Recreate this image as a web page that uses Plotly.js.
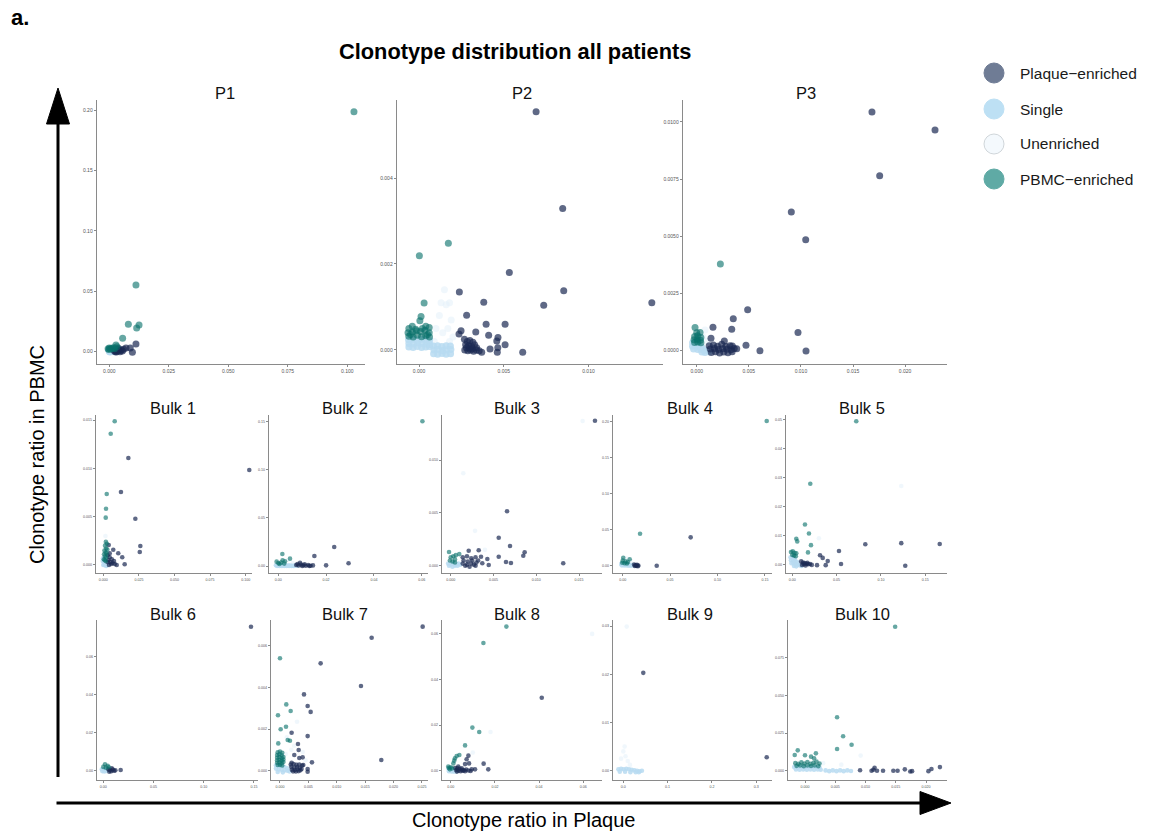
<!DOCTYPE html>
<html><head><meta charset="utf-8">
<script src="https://cdn.plot.ly/plotly-3.0.1.min.js"></script>
<style>html,body{margin:0;padding:0;background:#fff}#chart{width:1153px;height:833px}</style>
</head><body><div id="chart"></div>
<script>
// ---------- categories & names ----------
const categories = ["Unenriched", "Single", "Plaque\u2212enriched", "PBMC\u2212enriched"];
const legendOrder = ["Plaque\u2212enriched", "Single", "Unenriched", "PBMC\u2212enriched"];
const panelNames = ["P1","P2","P3","Bulk 1","Bulk 2","Bulk 3","Bulk 4","Bulk 5","Bulk 6","Bulk 7","Bulk 8","Bulk 9","Bulk 10"];

// ---------- tick labels ----------
const p1_xticks = ["0.000","0.025","0.050","0.075","0.100"];
const p1_yticks = ["0.00","0.05","0.10","0.15","0.20"];
const p2_xticks = ["0.000","0.005","0.010"];
const p2_yticks = ["0.000","0.002","0.004"];
const p3_xticks = ["0.000","0.005","0.010","0.015","0.020"];
const p3_yticks = ["0.0000","0.0025","0.0050","0.0075","0.0100"];
const b1_xticks = ["0.000","0.025","0.050","0.075","0.100"];
const b1_yticks = ["0.000","0.005","0.010","0.015"];
const b2_xticks = ["0.00","0.02","0.04","0.06"];
const b2_yticks = ["0.00","0.05","0.10","0.15"];
const b3_xticks = ["0.000","0.005","0.010","0.015"];
const b3_yticks = ["0.000","0.005","0.010"];
const b4_xticks = ["0.00","0.05","0.10","0.15"];
const b4_yticks = ["0.00","0.05","0.10","0.15","0.20"];
const b5_xticks = ["0.00","0.05","0.10","0.15"];
const b5_yticks = ["0.00","0.01","0.02","0.03","0.04","0.05"];
const b6_xticks = ["0.00","0.05","0.10","0.15"];
const b6_yticks = ["0.00","0.02","0.04","0.06"];
const b7_xticks = ["0.000","0.005","0.010","0.015","0.020","0.025"];
const b7_yticks = ["0.000","0.002","0.004","0.006"];
const b8_xticks = ["0.00","0.02","0.04","0.06"];
const b8_yticks = ["0.00","0.02","0.04","0.06"];
const b9_xticks = ["0.0","0.1","0.2","0.3"];
const b9_yticks = ["0.00","0.01","0.02","0.03"];
const b10_xticks = ["0.000","0.005","0.010","0.015","0.020"];
const b10_yticks = ["0.000","0.025","0.050","0.075","0.100"];

// ---------- data: [ratio in Plaque, ratio in PBMC] ----------
const p1_unenriched = [[0.0010,0.0020],[0.0020,0.0015],[0.0015,0.0030],[0.0025,0.0010]];
const p1_single = [[0.0000,0.0002],[0.0005,0.0000],[0.0010,0.0003],[0.0015,0.0001],[0.0002,0.0008],[0.0008,0.0006],[0.0012,0.0010],[0.0018,0.0004],[0.0003,-0.0003],[0.0020,0.0000],[-0.0002,0.0012],[0.0006,0.0015]];
const p1_plaque = [[0.0112,0.0064],[0.0097,-0.0005],[0.0088,0.0030],[0.0070,0.0030],[0.0060,0.0020],[0.0050,0.0015],[0.0040,0.0010],[0.0030,0.0005],[0.0035,0.0020],[0.0025,0.0000],[0.0045,0.0000],[0.0030,-0.0003],[0.0020,0.0010],[0.0055,0.0005],[0.0038,0.0028],[0.0028,0.0015]];
const p1_pbmc = [[0.1028,0.1986],[0.0112,0.0552],[0.0080,0.0227],[0.0115,0.0196],[0.0125,0.0221],[0.0056,0.0111],[0.0028,0.0055],[0.0000,0.0030],[-0.0005,0.0025],[0.0010,0.0028],[0.0018,0.0032],[0.0005,0.0022],[0.0022,0.0025],[0.0032,0.0040],[-0.0002,0.0018]];

const p2_unenriched = [[0.0015,0.0014],[0.0018,0.0011],[0.0016,0.00105],[0.0012,0.0008],[0.0019,0.0007],[0.0010,0.0005],[0.0014,0.0004],[0.0020,0.0003],[0.0009,0.0002],[0.0017,0.0005],[0.0013,0.0011],[0.0018,0.0002]];
const p2_single = [[-0.00062,0.00024],[-0.00035,0.00025],[-0.0001,0.00023],[0.00015,0.00025],[0.0004,0.00024],[0.00062,0.00022],[-0.0006,0.00015],[-0.00033,0.00014],[-0.00008,0.00016],[0.00018,0.00015],[0.00042,0.00014],[0.00063,0.00013],[-0.0006,0.00007],[-0.00035,0.00006],[-0.0001,0.00008],[0.00015,0.00006],[0.0004,0.00007],[0.00062,0.00008],[0.00085,0.00009],[0.0011,0.0001],[0.00135,0.00008],[0.0016,0.0001],[0.00185,0.00009],[0.00088,0.0],[0.00112,0.00001],[0.00138,-0.00001],[0.00162,0.0],[0.00188,0.00001],[0.00086,-0.00009],[0.0011,-0.0001],[0.00136,-0.00008],[0.0016,-0.0001],[0.00186,-0.00009]];
const p2_plaque = [[0.00691,0.00554],[0.00848,0.00329],[0.00533,0.00180],[0.00854,0.00138],[0.00238,0.00135],[0.00382,0.00111],[0.00736,0.00104],[0.01374,0.00110],[0.00281,0.00081],[0.00396,0.00060],[0.00508,0.00060],[0.00335,0.00042],[0.00248,0.00045],[0.00236,0.00037],[0.00411,0.00034],[0.00466,0.00029],[0.00459,0.00021],[0.00508,0.00012],[0.00612,-0.00005],[0.00370,-0.00005],[0.00419,0.00002],[0.00465,0.00005],[0.00462,-0.00005],[0.00268,0.00025],[0.00285,0.00020],[0.00300,0.00022],[0.00318,0.00018],[0.00275,0.00012],[0.00292,0.00010],[0.00310,0.00008],[0.00328,0.00012],[0.00340,0.00005],[0.00270,0.00000],[0.00288,-0.00002],[0.00305,0.00000],[0.00322,-0.00003],[0.00338,0.00000],[0.00355,-0.00002],[0.00280,0.00005],[0.00298,0.00004],[0.00315,0.00003]];
const p2_pbmc = [[0.00002,0.00219],[0.00173,0.00248],[0.0003,0.00109],[0.00012,0.00078],[0.00005,0.00068],[0.0004,0.00055],[-0.0004,0.00055],[-0.0006,0.00050],[0.0006,0.00052],[-0.00065,0.00040],[-0.0004,0.00042],[-0.00015,0.00045],[0.0001,0.00043],[0.00035,0.00046],[0.0006,0.00040],[-0.0006,0.00032],[-0.00035,0.00030],[-0.0001,0.00034],[0.00015,0.00031],[0.0004,0.00033],[0.00062,0.00030],[-0.0002,0.00048],[0.0002,0.00050],[-0.0005,0.00036],[0.0005,0.00036]];

const p3_unenriched = [[0.0006,0.0006],[0.0010,0.0004],[0.0013,0.0002],[0.0008,0.0009]];
const p3_single = [[-0.0004,0.00035],[-0.0001,0.00038],[0.0002,0.00030],[-0.0004,0.00020],[-0.0001,0.00022],[0.0002,0.00018],[0.0005,0.00015],[-0.0003,0.00008],[0.0001,0.00005],[0.0004,0.00006],[0.0007,0.00004],[0.0010,0.0],[0.0005,-0.00006],[0.0008,-0.00008],[0.0012,-0.00005]];
const p3_plaque = [[0.01682,0.01043],[0.02287,0.00965],[0.01756,0.00765],[0.00908,0.00606],[0.01046,0.00485],[0.00489,0.00179],[0.00351,0.00140],[0.00156,0.00102],[0.00336,0.00094],[0.00972,0.00080],[0.00137,0.00054],[0.00265,0.00042],[0.00473,0.00024],[0.00607,0.0],[0.01049,-0.00001],[0.00384,0.00009],[0.00342,0.00021],[0.0012,0.00022],[0.0016,0.00025],[0.0020,0.00020],[0.0024,0.00028],[0.0028,0.00018],[0.0032,0.00022],[0.0013,0.00008],[0.0017,0.00010],[0.0021,0.00005],[0.0025,0.00009],[0.0029,0.00006],[0.0033,0.00004],[0.0036,0.00010],[0.0014,-0.00008],[0.0018,-0.00005],[0.0022,-0.0001],[0.0026,-0.00006],[0.0030,-0.00009],[0.0034,-0.00005]];
const p3_pbmc = [[0.00227,0.00379],[-0.00016,0.00101],[0.00032,0.00080],[0.0,0.00079],[-0.0002,0.00062],[0.0001,0.00065],[0.0004,0.00058],[-0.00025,0.00048],[0.00005,0.00050],[0.00035,0.00046],[-0.0002,0.00036],[0.0001,0.00038],[0.0004,0.00035]];

const b1_unenriched = [[0.0030,0.0014],[0.0015,0.0030]];
const b1_single = [[-0.0004,0.0004],[0.0005,0.0003],[0.0014,0.0002],[0.0023,0.0003],[0.0032,0.0001],[0.0000,0.0000],[0.0010,0.0000],[0.0020,-0.0001],[0.0030,0.0000],[-0.0002,0.0007]];
const b1_plaque = [[0.1025,0.00983],[0.0176,0.01108],[0.0124,0.00756],[0.0225,0.00479],[0.0260,0.00197],[0.0256,0.00135],[0.0038,0.00207],[0.0070,0.00158],[0.0105,0.00121],[0.0133,0.00080],[0.0150,0.00007],[0.0094,0.0],[0.0030,0.0010],[0.0045,0.0008],[0.0060,0.0006],[0.0035,0.0005],[0.0050,0.0003],[0.0065,0.0002],[0.0080,0.0001],[0.0040,0.0000],[0.0055,0.0001],[0.0030,0.0003],[0.0045,0.0012],[0.0075,0.0004]];
const b1_pbmc = [[0.0080,0.01488],[0.0052,0.01359],[0.0024,0.00735],[0.0019,0.00583],[0.0017,0.00490],[0.0018,0.0024],[0.0025,0.0022],[0.0012,0.0020],[0.0020,0.0017],[0.0008,0.0015],[0.0016,0.0013],[0.0024,0.0012],[0.0005,0.0011],[0.0012,0.0009],[0.0020,0.0008],[0.0004,0.0006],[0.0010,0.0005],[0.0018,0.0004],[0.0028,0.0016]];

const b2_unenriched = [[0.0040,0.0060],[0.0060,0.0030]];
const b2_single = [[-0.0010,0.0008],[0.0000,0.0005],[0.0010,0.0007],[0.0020,0.0004],[0.0030,0.0006],[0.0040,0.0004],[0.0050,0.0005],[0.0060,0.0003],[0.0070,0.0004],[0.0080,0.0002],[-0.0005,0.0000],[0.0005,0.0000],[0.0015,0.0001],[0.0025,0.0000],[0.0035,0.0000],[0.0045,0.0001],[0.0055,0.0000],[0.0065,0.0000]];
const b2_plaque = [[0.0234,0.0197],[0.0151,0.0104],[0.0294,0.0028],[0.0200,0.0007],[0.0091,0.0034],[0.0075,0.0010],[0.0085,0.0005],[0.0095,0.0015],[0.0105,0.0008],[0.0115,0.0003],[0.0125,0.0010],[0.0135,0.0002],[0.0145,0.0006],[0.0080,0.0020],[0.0110,0.0018],[0.0100,0.0000],[0.0130,0.0000]];
const b2_pbmc = [[0.0603,0.1501],[0.0017,0.0124],[0.0049,0.0076],[0.0028,0.0049],[-0.0007,0.0045],[0.0000,0.0030],[0.0012,0.0035],[0.0025,0.0025],[0.0005,0.0020],[0.0018,0.0060]];

const b3_unenriched = [[0.00147,0.00875],[0.00284,0.0033],[0.01542,0.0137],[0.0040,0.0015]];
const b3_single = [[-0.0003,0.0002],[0.0000,0.0001],[0.0003,0.0002],[0.0006,0.0001],[0.0009,0.0002],[-0.0002,0.0000],[0.0002,-0.0001],[0.0005,0.0000],[0.0008,0.0000],[0.0011,0.0001]];
const b3_plaque = [[0.01686,0.01373],[0.00658,0.00515],[0.00561,0.00265],[0.00693,0.00187],[0.00561,0.00085],[0.00864,0.00127],[0.00848,0.00095],[0.00646,0.00035],[0.00704,0.00026],[0.01315,0.00023],[0.00327,0.00146],[0.00210,0.00142],[0.00354,0.00085],[0.00428,0.00063],[0.00444,0.00007],[0.00369,0.00023],[0.0014,0.0008],[0.0019,0.0009],[0.0024,0.0007],[0.0029,0.0008],[0.0015,0.0005],[0.0020,0.0004],[0.0025,0.0005],[0.0030,0.0003],[0.0014,0.0002],[0.0019,0.0001],[0.0024,0.0002],[0.0029,0.0000],[0.0017,0.0000],[0.0022,-0.0001],[0.0027,0.0001],[0.0032,0.0005]];
const b3_pbmc = [[-0.0002,0.0013],[0.0006,0.0010],[0.0010,0.0011],[0.0000,0.0008],[0.0003,0.0009],[0.0005,0.0006],[-0.0001,0.0005],[0.0002,0.0004],[0.0005,0.0003]];

const b4_unenriched = [[0.0040,0.0100],[0.0080,0.0060]];
const b4_single = [[-0.0015,0.0025],[0.0010,0.0022],[0.0035,0.0020],[0.0060,0.0018],[0.0085,0.0010],[0.0110,0.0008],[-0.0010,0.0005],[0.0015,0.0003],[0.0040,0.0002],[0.0065,0.0000],[0.0090,0.0001]];
const b4_plaque = [[0.0717,0.0394],[0.0359,0.0],[0.0120,0.0015],[0.0135,0.0005],[0.0150,0.0012],[0.0165,0.0003],[0.0128,-0.0005],[0.0145,-0.0002],[0.0160,-0.0006]];
const b4_pbmc = [[0.1519,0.2010],[0.0183,0.0444],[0.0006,0.0111],[0.0074,0.0089],[0.0000,0.0070],[0.0030,0.0060],[0.0055,0.0050],[-0.0005,0.0040],[0.0020,0.0035],[0.0045,0.0030]];

const b5_unenriched = [[0.1230,0.0270],[0.0300,0.0090]];
const b5_single = [[-0.0020,0.0024],[0.0005,0.0022],[0.0030,0.0018],[-0.0015,0.0014],[0.0010,0.0012],[0.0035,0.0010],[0.0060,0.0008],[-0.0010,0.0004],[0.0015,0.0003],[0.0040,0.0000],[0.0065,-0.0002],[0.0090,-0.0004],[0.0020,-0.0006],[0.0045,-0.0007],[0.0105,-0.0006]];
const b5_plaque = [[0.0824,0.0069],[0.1230,0.0073],[0.1664,0.0070],[0.1275,-0.0005],[0.0527,0.0046],[0.0550,0.0001],[0.0313,0.0031],[0.0343,0.0022],[0.0400,0.0011],[0.0377,-0.0003],[0.0279,-0.0003],[0.0100,0.0010],[0.0120,0.0006],[0.0140,0.0004],[0.0160,0.0002],[0.0180,0.0000],[0.0200,0.0001],[0.0220,-0.0002],[0.0110,-0.0002],[0.0130,0.0000],[0.0150,-0.0004],[0.0170,0.0005]];
const b5_pbmc = [[0.0722,0.0493],[0.0203,0.0278],[0.0143,0.0137],[0.0188,0.0106],[0.0045,0.0088],[0.0056,0.0079],[0.0211,0.0066],[0.0177,0.0041],[-0.0015,0.0042],[0.0005,0.0045],[0.0025,0.0040],[0.0045,0.0038],[0.0000,0.0032],[0.0020,0.0030],[0.0040,0.0028]];

const b6_unenriched = [[0.0040,0.0010]];
const b6_single = [[-0.0015,0.0008],[0.0005,0.0006],[0.0025,0.0004],[-0.0010,-0.0002],[0.0010,-0.0004],[0.0030,-0.0001]];
const b6_plaque = [[0.1471,0.0758],[0.0173,0.0004],[0.0107,0.0],[0.0084,0.0013],[0.0050,0.0008],[0.0065,0.0003],[0.0080,-0.0003],[0.0095,0.0006],[0.0060,-0.0005],[0.0120,0.0002]];
const b6_pbmc = [[0.0017,0.0034],[0.0044,0.0026],[0.0000,0.0020],[0.0025,0.0016],[0.0055,0.0018]];

const b7_unenriched = [[0.0030,0.00235],[0.0012,0.00160],[0.0025,0.00120],[0.0040,0.00090],[0.0010,0.00080],[0.0045,0.00050],[0.0020,0.00100]];
const b7_single = [[-0.0007,0.00026],[-0.0002,0.00022],[0.0003,0.00020],[0.0008,0.00018],[0.0013,0.00012],[-0.0007,0.00010],[-0.0002,0.00006],[0.0003,0.00004],[0.0008,0.00002],[0.0013,0.00000],[0.0017,-0.00004],[-0.0004,-0.00006],[0.0005,-0.00008]];
const b7_plaque = [[0.02512,0.00691],[0.01614,0.00638],[0.00716,0.00515],[0.01426,0.00406],[0.00423,0.00366],[0.00487,0.00310],[0.00540,0.00282],[0.00487,0.00166],[0.00205,0.00182],[0.01784,0.00051],[0.00317,0.00128],[0.00329,0.00099],[0.00252,0.00075],[0.00399,0.00064],[0.00340,0.00061],[0.00563,0.00040],[0.00410,0.00027],[0.00487,0.00008],[0.00487,-0.00005],[0.00205,0.00038],[0.0019,0.00030],[0.0024,0.00032],[0.0029,0.00028],[0.0034,0.00030],[0.0039,0.00025],[0.0020,0.00018],[0.0025,0.00015],[0.0030,0.00018],[0.0035,0.00014],[0.0021,0.00005],[0.0026,0.00003],[0.0031,0.00006],[0.0036,0.00002],[0.0023,-0.00003],[0.0028,-0.00004],[0.0033,-0.00002],[0.0038,0.00008]];
const b7_pbmc = [[0.0,0.00539],[0.00111,0.00318],[0.00188,0.00286],[-0.00035,0.00266],[0.00106,0.00211],[0.00012,0.00199],[-0.0003,0.00131],[0.00136,0.00147],[0.00176,0.00144],[-0.0004,0.00088],[0.0000,0.00092],[0.0004,0.00086],[-0.0005,0.00075],[-0.0001,0.00078],[0.0003,0.00074],[-0.0005,0.00062],[-0.0001,0.00065],[0.0003,0.00060],[0.0006,0.00066],[-0.0005,0.00050],[-0.0001,0.00052],[0.0003,0.00048],[0.0006,0.00054],[-0.0005,0.00038],[-0.0001,0.00040],[0.0003,0.00036],[0.0006,0.00042],[-0.0004,0.00027],[0.0000,0.00028],[0.0004,0.00025]];

const b8_unenriched = [[0.0180,0.0170],[0.0640,0.0600],[0.0100,0.0080]];
const b8_single = [[-0.0010,0.0008],[0.0000,0.0006],[0.0010,0.0007],[0.0020,0.0004],[-0.0008,-0.0002],[0.0004,-0.0003],[0.0015,-0.0004],[0.0026,-0.0002]];
const b8_plaque = [[0.0412,0.0320],[0.0149,0.0031],[0.0170,0.0006],[0.0080,0.0066],[0.0072,0.0050],[0.0065,0.0029],[0.0083,0.0032],[0.0095,0.0006],[0.0110,0.0006],[0.0050,0.0011],[0.0034,0.0018],[0.0020,0.0012],[0.0030,0.0010],[0.0040,0.0008],[0.0050,0.0004],[0.0060,0.0002],[0.0070,0.0005],[0.0025,0.0003],[0.0035,0.0000],[0.0045,-0.0002],[0.0055,0.0000],[0.0065,-0.0002],[0.0080,0.0001],[0.0090,-0.0001],[0.0028,-0.0004]];
const b8_pbmc = [[0.0252,0.0632],[0.0148,0.0560],[0.0098,0.0189],[0.0129,0.0170],[0.0065,0.0111],[0.0039,0.0069],[0.0027,0.0064],[0.0019,0.0054],[0.0016,0.0044],[0.0012,0.0032],[-0.0011,0.0018],[-0.0008,0.0012],[0.0000,0.0015],[0.0006,0.0010],[-0.0004,0.0006]];

const b9_unenriched = [[0.0077,0.0299],[0.0000,0.0040],[0.0050,0.0030],[0.0100,0.0020],[-0.0050,0.0025],[0.0030,0.0050],[0.0150,0.0012]];
const b9_single = [[-0.0110,0.0003],[-0.0050,0.0004],[0.0010,0.0003],[0.0070,0.0004],[0.0130,0.0003],[0.0190,0.0002],[0.0250,0.0001],[0.0310,0.0000],[0.0370,-0.0001],[0.0420,0.0000],[-0.0080,-0.0002],[0.0040,-0.0002],[0.0160,-0.0003],[0.0280,-0.0003],[0.0350,-0.0003]];
const b9_plaque = [[0.0451,0.0203],[0.3237,0.0028]];
const b9_pbmc = [];

const b10_unenriched = [[0.0092,0.0100],[0.0060,0.0040],[0.0030,0.0050]];
const b10_single = [[-0.0018,0.0024],[-0.0012,0.0022],[-0.0006,0.0024],[0.0000,0.0022],[0.0006,0.0024],[0.0012,0.0022],[0.0018,0.0024],[0.0024,0.0022],[-0.0015,0.0008],[-0.0009,0.0006],[-0.0003,0.0008],[0.0003,0.0006],[0.0009,0.0008],[0.0015,0.0006],[0.0021,0.0008],[0.0026,0.0006],[0.0034,0.0002],[0.0040,-0.0003],[0.0046,0.0002],[0.0052,-0.0003],[0.0058,0.0002],[0.0064,-0.0003],[0.0070,0.0002],[0.0076,-0.0002]];
const b10_plaque = [[0.0091,0.0003],[0.0110,0.0],[0.0115,0.0020],[0.0119,0.0],[0.0129,0.0],[0.0146,0.0],[0.0153,0.0],[0.0165,0.0009],[0.0174,-0.0005],[0.0177,-0.0003],[0.0204,-0.0003],[0.0209,0.0011],[0.0223,0.0024],[0.0113,0.0006]];
const b10_pbmc = [[0.0149,0.0955],[0.0053,0.0354],[0.0063,0.0228],[0.0077,0.0172],[0.0053,0.0144],[-0.0017,0.0104],[-0.0012,0.0135],[0.0000,0.0102],[0.0015,0.0082],[0.0018,0.0115],[0.0010,0.0093],[-0.0016,0.0050],[-0.0011,0.0045],[-0.0006,0.0055],[-0.0001,0.0048],[0.0004,0.0058],[0.0009,0.0046],[0.0014,0.0052],[0.0019,0.0060],[0.0024,0.0047],[-0.0014,0.0032],[-0.0008,0.0035],[-0.0002,0.0030],[0.0004,0.0034],[0.0010,0.0031],[0.0016,0.0035],[0.0022,0.0030]];

// ---------- layout geometry (pixels) ----------
const W = 1153, H = 833;
const panelSets = [
  {u:p1_unenriched,s:p1_single,p:p1_plaque,b:p1_pbmc,xt:p1_xticks,yt:p1_yticks,box:[97,365,100,364],xr:[-0.00517,0.10744],yr:[-0.01018,0.20828],big:true},
  {u:p2_unenriched,s:p2_single,p:p2_plaque,b:p2_pbmc,xt:p2_xticks,yt:p2_yticks,box:[397,663,100,364],xr:[-0.0013,0.0144],yr:[-0.000326,0.005814],big:true},
  {u:p3_unenriched,s:p3_single,p:p3_plaque,b:p3_pbmc,xt:p3_xticks,yt:p3_yticks,box:[683,947,100,364],xr:[-0.001315,0.02402],yr:[-0.000581,0.010957],big:true},
  {u:b1_unenriched,s:b1_single,p:b1_plaque,b:b1_pbmc,xt:b1_xticks,yt:b1_yticks,box:[96,252,415,573],xr:[-0.00513,0.10442],yr:[-0.00083,0.01553]},
  {u:b2_unenriched,s:b2_single,p:b2_plaque,b:b2_pbmc,xt:b2_xticks,yt:b2_yticks,box:[269,428,415,573],xr:[-0.00389,0.06264],yr:[-0.00726,0.15664]},
  {u:b3_unenriched,s:b3_single,p:b3_plaque,b:b3_pbmc,xt:b3_xticks,yt:b3_yticks,box:[442,602,415,573],xr:[-0.00102,0.01768],yr:[-0.00069,0.01427]},
  {u:b4_unenriched,s:b4_single,p:b4_plaque,b:b4_pbmc,xt:b4_xticks,yt:b4_yticks,box:[613,772,415,573],xr:[-0.01023,0.15749],yr:[-0.01014,0.2093]},
  {u:b5_unenriched,s:b5_single,p:b5_plaque,b:b5_pbmc,xt:b5_xticks,yt:b5_yticks,box:[786,947,415,573],xr:[-0.00711,0.1746],yr:[-0.003,0.05148]},
  {u:b6_unenriched,s:b6_single,p:b6_plaque,b:b6_pbmc,xt:b6_xticks,yt:b6_yticks,box:[97,258,620,780],xr:[-0.00627,0.15408],yr:[-0.00489,0.07932]},
  {u:b7_unenriched,s:b7_single,p:b7_plaque,b:b7_pbmc,xt:b7_xticks,yt:b7_yticks,box:[271,428,620,780],xr:[-0.00158,0.02606],yr:[-0.000446,0.007228]},
  {u:b8_unenriched,s:b8_single,p:b8_plaque,b:b8_pbmc,xt:b8_xticks,yt:b8_yticks,box:[442,602,620,780],xr:[-0.00394,0.06846],yr:[-0.00408,0.0661]},
  {u:b9_unenriched,s:b9_single,p:b9_plaque,b:b9_pbmc,xt:b9_xticks,yt:b9_yticks,box:[613,772,620,780],xr:[-0.02325,0.33567],yr:[-0.00193,0.03127]},
  {u:b10_unenriched,s:b10_single,p:b10_plaque,b:b10_pbmc,xt:b10_xticks,yt:b10_yticks,box:[788,947,620,780],xr:[-0.00281,0.02347],yr:[-0.00617,0.09993]}
];
const titlePos = [[225,93],[522,93],[806,93],[173,408],[345,408],[517,408],[690,408],[862,408],[173,614],[345,614],[517,614],[690,614],[862,614]];

const catStyle = {
  "Unenriched":        {color:'#e4f1f9', opacity:0.55},
  "Single":            {color:'#b7dbf1', opacity:0.85},
  "Plaque\u2212enriched": {color:'#1b2a52', opacity:0.7},
  "PBMC\u2212enriched":   {color:'#08716b', opacity:0.62}
};
const legendColors = {
  "Plaque\u2212enriched": '#6f7c95',
  "Single": '#bde0f4',
  "Unenriched": '#f4f9fd',
  "PBMC\u2212enriched": '#5faaa5'
};

const px2x = v => v / W;
const py2y = v => 1 - v / H;

const traces = [];
const layout = {
  width: W, height: H,
  margin: {l:0, r:0, t:0, b:0},
  paper_bgcolor: '#ffffff', plot_bgcolor: 'rgba(0,0,0,0)',
  showlegend: false,
  font: {family: 'Liberation Sans, Arial, sans-serif', color: '#000'},
  annotations: [], shapes: []
};

panelSets.forEach((ps, i) => {
  const n = i === 0 ? '' : String(i + 1);
  const keys = ['u','s','p','b'];
  keys.forEach((k, ci) => {
    const cat = categories[ci];
    const pts = ps[k];
    traces.push({
      type: 'scatter', mode: 'markers', name: cat,
      x: pts.map(d => d[0]), y: pts.map(d => d[1]),
      xaxis: 'x' + n, yaxis: 'y' + n,
      marker: {size: ps.big ? 7 : 4.6, color: catStyle[cat].color, opacity: catStyle[cat].opacity, line: {width: 0}},
      hoverinfo: 'skip', cliponaxis: false
    });
  });
  const [l, r, t, b] = ps.box;
  const tf = {size: ps.big ? 5 : 3.6, color: '#555'};
  layout['xaxis' + n] = {
    domain: [px2x(l), px2x(r)], range: ps.xr, anchor: 'y' + n,
    showline: true, linecolor: '#8a8a8a', linewidth: 1.3, mirror: false,
    ticks: 'outside', ticklen: 2, tickcolor: '#8a8a8a', tickwidth: 1,
    tickvals: ps.xt.map(Number), ticktext: ps.xt, tickfont: tf,
    showgrid: false, zeroline: false, fixedrange: true
  };
  layout['yaxis' + n] = {
    domain: [py2y(b), py2y(t)], range: ps.yr, anchor: 'x' + n,
    showline: true, linecolor: '#8a8a8a', linewidth: 1.3, mirror: false,
    ticks: 'outside', ticklen: 2, tickcolor: '#8a8a8a', tickwidth: 1,
    tickvals: ps.yt.map(Number), ticktext: ps.yt, tickfont: tf,
    showgrid: false, zeroline: false, fixedrange: true
  };
  layout.annotations.push({
    xref: 'paper', yref: 'paper', x: px2x(titlePos[i][0]), y: py2y(titlePos[i][1]),
    text: panelNames[i], showarrow: false, xanchor: 'center', yanchor: 'middle',
    font: {size: 16.5, color: '#111', family: 'Liberation Sans, Arial, sans-serif'}
  });
});

// headline texts
layout.annotations.push(
  {xref:'paper', yref:'paper', x:px2x(9), y:py2y(17), text:'<b>a.</b>', showarrow:false, xanchor:'left', yanchor:'middle', font:{size:22, color:'#000'}},
  {xref:'paper', yref:'paper', x:px2x(515), y:py2y(52), text:'<b>Clonotype distribution all patients</b>', showarrow:false, xanchor:'center', yanchor:'middle', font:{size:21.8, color:'#000'}},
  {xref:'paper', yref:'paper', x:px2x(37), y:py2y(455), text:'Clonotype ratio in PBMC', textangle:-90, showarrow:false, xanchor:'center', yanchor:'middle', font:{size:20, color:'#000'}},
  {xref:'paper', yref:'paper', x:px2x(523), y:py2y(820), text:'Clonotype ratio in Plaque', showarrow:false, xanchor:'center', yanchor:'middle', font:{size:20, color:'#000'}}
);

// arrows
layout.shapes.push(
  {type:'line', xref:'paper', yref:'paper', x0:px2x(58), x1:px2x(58), y0:py2y(777), y1:py2y(118), line:{color:'#000', width:3}},
  {type:'path', xref:'paper', yref:'paper', path:`M ${px2x(58)},${py2y(88)} L ${px2x(46.5)},${py2y(124)} L ${px2x(69.5)},${py2y(124)} Z`, fillcolor:'#000', line:{color:'#000', width:1}},
  {type:'line', xref:'paper', yref:'paper', x0:px2x(56.5), x1:px2x(925), y0:py2y(803), y1:py2y(803), line:{color:'#000', width:3}},
  {type:'path', xref:'paper', yref:'paper', path:`M ${px2x(951)},${py2y(803)} L ${px2x(920)},${py2y(791.5)} L ${px2x(920)},${py2y(814.5)} Z`, fillcolor:'#000', line:{color:'#000', width:1}}
);

// legend (manual)
const legendY = [73, 109, 144, 179];
legendOrder.forEach((cat, i) => {
  const cy = legendY[i];
  layout.shapes.push({type:'circle', xref:'paper', yref:'paper', x0:px2x(984), x1:px2x(1004), y0:py2y(cy+10), y1:py2y(cy-10),
    fillcolor: legendColors[cat], line:{color: cat === 'Unenriched' ? '#d0d6da' : legendColors[cat], width: 1}});
  layout.annotations.push({xref:'paper', yref:'paper', x:px2x(1018), y:py2y(cy), text:cat, showarrow:false, xanchor:'left', yanchor:'middle',
    font:{size:15.5, color:'#1a1a1a'}});
});

Plotly.newPlot('chart', traces, layout, {staticPlot: true, displayModeBar: false});
</script>
</body></html>
